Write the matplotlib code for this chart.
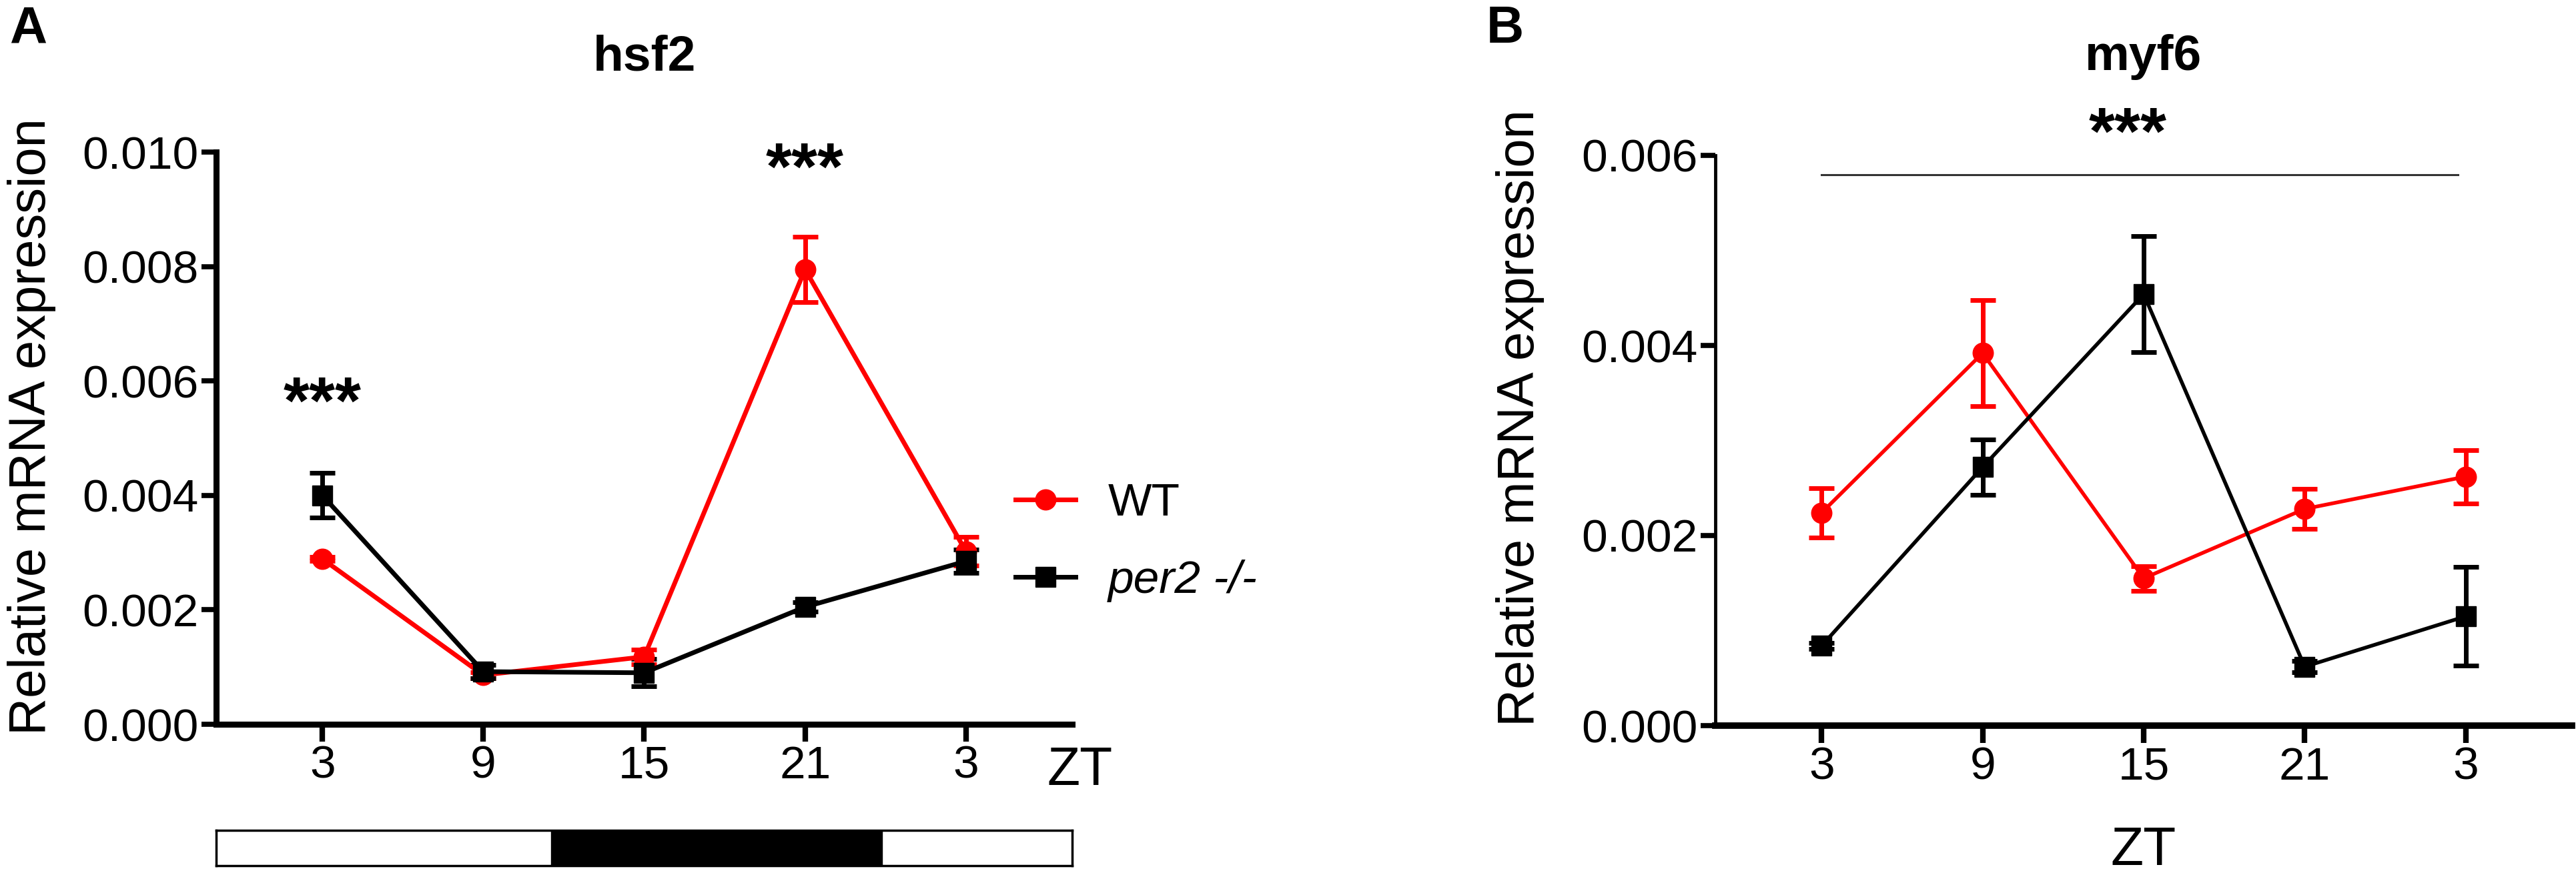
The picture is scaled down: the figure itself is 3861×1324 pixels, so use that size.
import numpy as np
import matplotlib.pyplot as plt
from matplotlib.lines import Line2D

plt.rcParams['font.family'] = ['Liberation Sans', 'DejaVu Sans']

# data
zt_labels = ['3', '9', '15', '21', '3']
xpos = np.arange(len(zt_labels))

# hsf2
hsf2_wt = [0.00289, 0.00086, 0.00118, 0.00795, 0.00302]
hsf2_wt_err = [0.00003, 0.00005, 0.00013, 0.00057, 0.00025]
hsf2_per2 = [0.00400, 0.00092, 0.00090, 0.00205, 0.00285]
hsf2_per2_err = [0.00039, 0.00012, 0.00024, 0.00008, 0.00020]

# myf6
myf6_wt = [0.00224, 0.00392, 0.00155, 0.00228, 0.00262]
myf6_wt_err = [0.00026, 0.00056, 0.00013, 0.00021, 0.00028]
myf6_per2 = [0.00084, 0.00272, 0.00454, 0.00062, 0.00115]
myf6_per2_err = [0.00003, 0.00029, 0.00061, 0.00006, 0.00052]

# light/dark bar (dark phase ZT12-24 on the category axis)
dark_span = [1.42, 3.48]

RED = '#ff0000'
W, H = 3861, 1324
fig = plt.figure(figsize=(W / 100, H / 100), dpi=100)

xlim = (-0.66, 4.66)
tick_fs = 50
lab_fs = 56


def style_axis(ax, yspine_w, xspine_w):
    for s in ['top', 'right']:
        ax.spines[s].set_visible(False)
    ax.spines['left'].set_linewidth(yspine_w)
    ax.spines['bottom'].set_linewidth(xspine_w)
    ax.tick_params(axis='y', length=16, width=5.5, pad=3, labelsize=tick_fs)
    ax.tick_params(axis='x', length=19, width=6, pad=3, labelsize=tick_fs)
    ax.set_xlim(xlim)
    ax.set_xticks(xpos)
    ax.set_xticklabels(zt_labels)


def series(ax, y, err, color, marker, lw, ms):
    ax.errorbar(xpos, y, yerr=err, color=color, marker=marker, lw=lw, ms=ms,
                capsize=14, capthick=5, elinewidth=5, clip_on=False)


###################### PANEL A ######################
axA = fig.add_axes([324 / W, 1 - 1086 / H, (1607 - 324) / W, (1086 - 228) / H])
series(axA, hsf2_wt, hsf2_wt_err, RED, 'o', 5, 22)
series(axA, hsf2_per2, hsf2_per2_err, 'black', 's', 5, 22)
style_axis(axA, 6.5, 6.5)
axA.set_ylim(0, 0.010)
axA.set_yticks(np.arange(0, 0.0101, 0.002))
axA.set_yticklabels(['0.000', '0.002', '0.004', '0.006', '0.008', '0.010'])
axA.set_ylabel('Relative mRNA expression', fontsize=lab_fs)
axA.yaxis.set_label_coords(-0.187, 0.52)
axA.set_title('hsf2', fontsize=54, fontweight='bold', pad=0, y=(1086 - 105) / 858)
axA.text(0, 0.00556, '***', fontsize=72, fontweight='bold', ha='center', va='center')
axA.text(3, 0.00965, '***', fontsize=72, fontweight='bold', ha='center', va='center')

handles = [Line2D([], [], color=RED, marker='o', lw=5, ms=22),
           Line2D([], [], color='black', marker='s', lw=5, ms=22)]
axA.legend(handles, ['WT', 'per2 -/-'], loc='center left',
           bbox_to_anchor=(1522 / W, 1 - 813 / H), bbox_transform=fig.transFigure,
           frameon=False, fontsize=50, handlelength=1.3, handletextpad=0.7,
           labelspacing=0.75, borderpad=0, borderaxespad=0)
leg = axA.get_legend()
leg.get_texts()[1].set_style('italic')

fig.text(1619 / W, 1 - 1156 / H, 'ZT', fontsize=58, ha='center', va='center')

# light/dark bar under panel A
axBar = fig.add_axes([324 / W, 1 - 1298 / H, (1607 - 324) / W, 53 / H])
axBar.set_xlim(xlim)
axBar.set_ylim(0, 1)
axBar.axvspan(dark_span[0], dark_span[1], color='black')
for s in axBar.spines.values():
    s.set_linewidth(2.5)
axBar.set_xticks([])
axBar.set_yticks([])

###################### PANEL B ######################
axB = fig.add_axes([2571 / W, 1 - 1088 / H, (3855 - 2571) / W, (1088 - 233) / H])
series(axB, myf6_wt, myf6_wt_err, RED, 'o', 4, 22)
series(axB, myf6_per2, myf6_per2_err, 'black', 's', 4, 22)
style_axis(axB, 3.5, 7)
axB.set_ylim(0, 0.006)
axB.set_yticks(np.arange(0, 0.0061, 0.002))
axB.set_yticklabels(['0.000', '0.002', '0.004', '0.006'])
axB.set_ylabel('Relative mRNA expression', fontsize=lab_fs)
axB.yaxis.set_label_coords(-0.199, 0.54)
axB.set_xlabel('ZT', fontsize=58, labelpad=40)
axB.set_title('myf6', fontsize=54, fontweight='bold', pad=0, y=(1088 - 105) / 855)
axB.plot([0, 3.95], [0.0058, 0.0058], color='#333333', lw=2.2, clip_on=False)
axB.text(1.9, 0.0062, '***', fontsize=72, fontweight='bold', ha='center', va='center')

# panel letters
fig.text(42 / W, 1 - 44 / H, 'A', fontsize=56, fontweight='bold', ha='center', va='center')
fig.text(2256 / W, 1 - 44 / H, 'B', fontsize=56, fontweight='bold', ha='center', va='center')

plt.savefig('out.png', dpi=100)
